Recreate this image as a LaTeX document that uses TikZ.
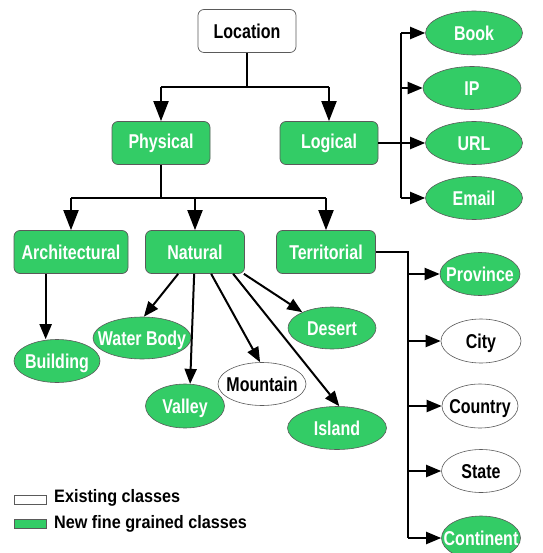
\documentclass[tikz,border=0pt]{standalone}
\usepackage{fontspec}
\setmainfont{Liberation Sans}
\newfontfamily\nodefont[FakeStretch=0.8]{Liberation Sans}
\newfontfamily\legfont[FakeStretch=0.9]{Liberation Sans}
\usetikzlibrary{shapes.geometric,arrows.meta,calc}
\definecolor{ngreen}{HTML}{33CC66}
\definecolor{bord}{HTML}{5A5A5A}
\newcommand\ztxt[1]{\makebox[0pt]{\raisebox{-.36em}[0pt][0pt]{#1}}}
\tikzset{
  nfont/.style={font=\nodefont\bfseries\fontsize{20}{22}\selectfont},
  box/.style={rectangle,rounded corners=6pt,draw=bord,line width=0.7pt,minimum width=98pt,minimum height=43pt,inner sep=0pt,nfont},
  gbox/.style={box,fill=ngreen,text=white},
  wbox/.style={box,fill=white,text=black},
  ell/.style={ellipse,draw=bord,line width=0.6pt,inner sep=0pt,nfont},
  gell/.style={ell,fill=ngreen,text=white},
  well/.style={ell,fill=white,text=black},
  conn/.style={line width=2pt,black},
  arr/.style={conn,-{Triangle[length=15pt,width=12pt]}},
  barr/.style={conn,-{Triangle[length=20pt,width=15pt]}},
  legbox/.style={rectangle,draw=bord,line width=0.7pt,minimum width=32pt,minimum height=9pt,inner sep=0pt},
  legtxt/.style={anchor=west,inner sep=0pt,font=\legfont\bfseries\fontsize{18}{20}\selectfont}
}
\begin{document}
\begin{tikzpicture}[x=1pt,y=-1pt]
\useasboundingbox[fill=white] (0,0) rectangle (542,553);
% boxes
\node[wbox] (location) at (247,31) {Location};
\node[gbox] (physical) at (161,143) {Physical};
\node[gbox] (logical) at (329,143) {Logical};
\node[gbox,minimum width=114pt] (arch) at (71,252) {Architectural};
\node[gbox,minimum width=99pt] (natural) at (195,252) {Natural};
\node[gbox,minimum width=99pt] (terr) at (326,252) {Territorial};
% logical children
\node[gell,minimum width=97pt,minimum height=44pt] (book) at (474,33) {\ztxt{Book}};
\node[gell,minimum width=98pt,minimum height=43pt] (ip) at (472,88) {\ztxt{IP}};
\node[gell,minimum width=97pt,minimum height=43pt] (url) at (474,143) {\ztxt{URL}};
\node[gell,minimum width=97pt,minimum height=43pt] (email) at (474,198) {\ztxt{Email}};
% territorial children
\node[gell,minimum width=80pt,minimum height=43pt] (province) at (480,274) {\ztxt{Province}};
\node[well,minimum width=80pt,minimum height=44pt] (city) at (481,341) {\ztxt{City}};
\node[well,minimum width=76pt,minimum height=44pt] (country) at (480,406) {\ztxt{Country}};
\node[well,minimum width=79pt,minimum height=43pt] (state) at (481,471) {\ztxt{State}};
\node[gell,minimum width=79pt,minimum height=44pt] (continent) at (481,538) {\ztxt{Continent}};
% natural children
\node[gell,minimum width=98pt,minimum height=42pt] (water) at (142,338) {\ztxt{Water Body}};
\node[gell,minimum width=88pt,minimum height=42pt] (desert) at (332,328) {\ztxt{Desert}};
\node[gell,minimum width=86pt,minimum height=43pt] (building) at (57,361) {\ztxt{Building}};
\node[well,minimum width=88pt,minimum height=43pt] (mountain) at (262,384) {\ztxt{Mountain}};
\node[gell,minimum width=79pt,minimum height=44pt] (valley) at (185,406) {\ztxt{Valley}};
\node[gell,minimum width=99pt,minimum height=43pt] (island) at (337,428) {\ztxt{Island}};
% location connectors
\coordinate (lj) at (247,87);
\coordinate (lphys) at (161,87);
\coordinate (llog) at (329,87);
\draw[conn,line width=1.2pt] (location.south) -- (lj);
\draw[conn] (lphys) -- (llog);
\draw[barr] (lphys) -- (physical.north);
\draw[barr] (llog) -- (logical.north);
% logical connectors
\coordinate (tl) at (401,143);
\coordinate (tlb) at (401,33);
\coordinate (tli) at (401,88);
\coordinate (tle) at (401,198);
\draw[conn] (logical.east) -- (tl);
\draw[conn] (tlb) -- (tle);
\draw[arr] (tlb) -- (book.west);
\draw[arr] (tli) -- (ip.west);
\draw[arr] (tl) -- (url.west);
\draw[arr] (tle) -- (email.west);
% physical connectors
\coordinate (pj) at (161,198);
\coordinate (pa) at (71,198);
\coordinate (pn) at (195,198);
\coordinate (pt) at (326,198);
\draw[conn] (physical.south) -- (pj);
\draw[conn] (pa) -- (pt);
\draw[barr] (pa) -- (arch.north);
\draw[barr] (pn) -- (natural.north);
\draw[barr] (pt) -- (terr.north);
% architectural
\coordinate (as) at ($(arch.south west)+(32,0)$);
\draw[arr] (as) -- (as |- building.north);
% natural
\draw[arr] ($(natural.south west)+(33,0)$) -- (water.85);
\draw[arr] ($(natural.south west)+(49,0)$) -- (valley.77);
\draw[arr] ($(natural.south west)+(66,0)$) -- (mountain.95);
\draw[arr] ($(natural.south west)+(88,0)$) -- (island.84);
\draw[arr] ($(natural.south east)+(-1,0)$) -- (desert.152);
% territorial
\coordinate (tt) at (408,252);
\coordinate (ttp) at (408,274);
\coordinate (ttc) at (408,341);
\coordinate (ttco) at (408,406);
\coordinate (tts) at (408,471);
\coordinate (ttn) at (408,538);
\draw[conn] (terr.east) -- (tt) -- (ttn);
\draw[arr] (ttp) -- (province.west);
\draw[arr] (ttc) -- (city.west);
\draw[arr] (ttco) -- (country.west);
\draw[arr] (tts) -- (state.west);
\draw[arr] (ttn) -- (continent.west);
% legend
\node[legbox,fill=white] (lw) at (30,499.5) {};
\node[legbox,fill=ngreen] (lg) at (30,523.5) {};
\node[legtxt] (lwt) at (54,498) {Existing classes};
\node[legtxt] (lgt) at (54,524) {New fine grained classes};
\end{tikzpicture}
\end{document}
